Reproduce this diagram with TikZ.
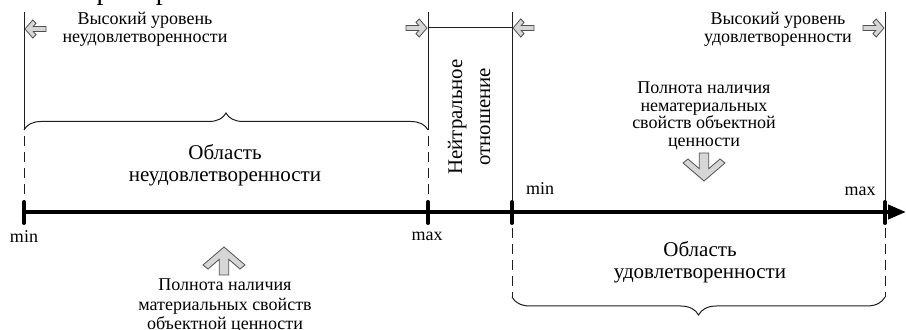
\documentclass[tikz,border=0pt]{standalone}
\usepackage{fontspec}
\setmainfont{Liberation Serif}
\usetikzlibrary{positioning,arrows.meta,decorations.pathreplacing}
\definecolor{arrfill}{RGB}{214,214,214}
\definecolor{arrline}{RGB}{80,80,80}
\definecolor{ink}{RGB}{30,30,30}
\tikzset{
  lbl/.style   ={align=center, font=\fontsize{9}{8.8}\selectfont, inner sep=0pt},
  big/.style   ={align=center, font=\fontsize{10.5}{11}\selectfont, inner sep=0pt},
  vline/.style ={draw=ink, line width=0.5pt},
  dline/.style ={draw=ink, line width=0.5pt, dash pattern=on 5pt off 3pt},
  tick/.style  ={draw=black, line width=2pt, line cap=round},
  axis/.style  ={draw=black, line width=2pt, -{Triangle[length=9pt,width=7pt]}},
  brc/.style   ={draw=ink, line width=0.5pt, decorate},
  chev/.style  ={draw=arrline, fill=arrfill, line width=0.4pt, line join=miter},
  pics/smallchev/.style={code={
    \filldraw[chev] (0,0) -- (-7.7,9) -- (-11,5.7) -- (-8.3,2.5) -- (-21,2.5)
      -- (-21,-2.5) -- (-8.3,-2.5) -- (-11,-5.7) -- (-7.7,-9) -- cycle;}},
  pics/bigchev/.style={code={
    \filldraw[chev] (0,0) -- (-18,21) -- (-22,16) -- (-12.3,4.7) -- (-28,4.7)
      -- (-28,-4.7) -- (-12.3,-4.7) -- (-22,-16) -- (-18,-21) -- cycle;}},
}

\begin{document}
\begin{tikzpicture}[x=0.5pt,y=-0.5pt]
\useasboundingbox (0,0) rectangle (906,330);
% cut-off line of the page text
\node[anchor=base east, inner sep=0pt, font=\fontsize{14}{16}\selectfont] (intro) at (178,0) {е. Например:};

% points on the axis
\coordinate (aL) at (24,212);
\coordinate (aR) at (428,212);
\coordinate (bL) at (512,212);
\coordinate (bR) at (885,212);
\coordinate (ax0) at (22,212);
\coordinate (ax1) at (906,212);

% upper ends of the bounds
\coordinate (aLt) at (24,12);
\coordinate (aRt) at (428,12);
\coordinate (bLt) at (512,12);
\coordinate (bRt) at (885,12);

% ends of the braces
\coordinate (aLb) at (24,130);
\coordinate (aRb) at (428,130);
\coordinate (bLb) at (512,297);
\coordinate (bRb) at (885,297);

\draw[vline] (aLt) -- (aLb);
\draw[vline] (aRt) -- (aRb);
\draw[vline] (bLt) -- (bL);
\draw[vline] (bRt) -- (bR);
\draw[dline] (24,136) -- (aL);
\draw[dline] (428,136) -- (aR);
\draw[dline] (bL) -- (bLb);
\draw[dline] (bR) -- (bRb);

\draw[brc, decoration={brace, amplitude=8.5pt}] (aLb) -- (aRb);
\draw[brc, decoration={brace, amplitude=9pt, mirror}] (bLb) -- (bRb);

% neutral band
\coordinate (nL) at (428,28);
\coordinate (nR) at (512,28);
\draw[vline] (nL) -- (nR);

\draw[axis] (ax0) -- (ax1);
\draw[tick] (24,202) -- (24,223);
\draw[tick] (428,202) -- (428,223);
\draw[tick] (512,202) -- (512,223);
\draw[tick] (885,202) -- (885,223);

% small arrows at the bounds
\pic[rotate=180] (hiNegArr) at (25,29) {smallchev};
\pic (nLArr) at (427,28) {smallchev};
\pic[rotate=180] (nRArr) at (513,28) {smallchev};
\pic (hiPosArr) at (884,28) {smallchev};

\node[lbl] (hiNeg) at (145,29) {Высокий уровень\\неудовлетворенности};
\node[lbl] (hiPos) at (778,29) {Высокий уровень\\удовлетворенности};
\node[lbl, rotate=90, font=\fontsize{10.4}{14}\selectfont] (neutral) at (469,117) {Нейтральное\\отношение};

\node[big] (negArea) at (225,165) {Область\\неудовлетворенности};
\node[big] (posArea) at (700,262) {Область\\удовлетворенности};

\node[lbl] (immat) at (704,116) {Полнота наличия\\нематериальных\\свойств объектной\\ценности};
\pic[rotate=-90] (immatArr) at (704,181) {bigchev};

\pic[rotate=90] (matArr) at (224,247) {bigchev};
\node[lbl, font=\fontsize{9}{9.6}\selectfont] (mat) at (225,306) {Полнота наличия\\материальных свойств\\объектной ценности};

\node[lbl, anchor=base] (minA) at (24,243) {min};
\node[lbl, anchor=base] (maxA) at (427,241) {max};
\node[lbl, anchor=base] (minB) at (540,195) {min};
\node[lbl, anchor=base] (maxB) at (860,196) {max};
\end{tikzpicture}
\end{document}
